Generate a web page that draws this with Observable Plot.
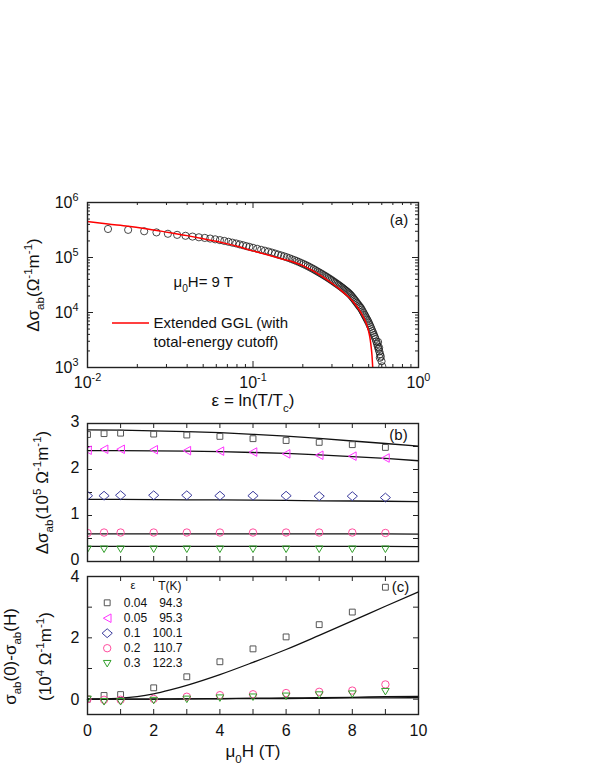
<!DOCTYPE html>
<html><head><meta charset="utf-8">
<script src="https://cdn.jsdelivr.net/npm/d3@7"></script>
<script src="https://cdn.jsdelivr.net/npm/@observablehq/plot@0.6"></script>
<style>
body{margin:0;background:#fff;}
#wrap{position:relative;width:595px;height:770px;overflow:hidden;}
#wrap svg{position:absolute;left:0;}
</style></head><body><div id="wrap"></div>
<script>
// ---------- Panel (a): Δσ_ab vs ε at 9 T (log-log) ----------
const epsA = [0.0133,0.0176,0.0220,0.0261,0.0306,0.0348,0.0391,0.0431,0.0471,0.0511,0.0551,0.0591,0.0631,0.0671,0.0711,0.0751,0.0791,0.0831,0.0871,0.0911,0.0951,0.100,
0.106,0.112,0.118,0.124,0.130,0.136,0.142,0.148,0.154,0.160,0.166,0.172,0.178,0.184,0.190,0.196,0.202,0.208,0.214,0.220,0.226,0.232,0.238,0.244,
0.250,0.256,0.262,0.268,0.274,0.280,0.286,0.292,0.298,0.304,0.310,0.316,0.322,0.328,0.334,0.340,0.346,0.352,0.358,0.364,0.370,0.376,0.382,0.388,
0.394,0.400,0.406,0.412,0.418,0.424,0.430,0.436,0.442,0.448,0.454,0.460,0.466,0.472,0.478,0.484,0.490,0.496,0.502,0.508,0.514,0.520,0.526,0.532,
0.538,0.544,0.550,0.556,0.562,0.568,0.574,0.580,0.586,0.592,0.598,0.604,0.610,0.570,0.578,0.584];
const sigmaA = [3.30e5,3.18e5,3.00e5,2.86e5,2.70e5,2.58e5,2.48e5,2.40e5,2.33e5,2.27e5,2.21e5,2.14e5,2.07e5,2.00e5,1.93e5,1.86e5,1.80e5,1.73e5,1.67e5,1.61e5,1.56e5,1.50e5,
1.44e5,1.38e5,1.33e5,1.28e5,1.23e5,1.18e5,1.13e5,1.09e5,1.05e5,1.01e5,9.70e4,9.30e4,8.95e4,8.60e4,8.25e4,7.90e4,7.60e4,7.30e4,7.00e4,6.70e4,6.42e4,6.15e4,5.88e4,5.62e4,
5.40e4,5.18e4,4.97e4,4.77e4,4.58e4,4.40e4,4.22e4,4.05e4,3.89e4,3.73e4,3.58e4,3.44e4,3.31e4,3.18e4,3.06e4,2.94e4,2.82e4,2.71e4,2.60e4,2.50e4,2.40e4,2.30e4,2.20e4,2.10e4,
1.99e4,1.88e4,1.78e4,1.68e4,1.59e4,1.50e4,1.42e4,1.34e4,1.27e4,1.21e4,1.13e4,1.05e4,9.80e3,9.10e3,8.50e3,7.90e3,7.40e3,6.90e3,6.40e3,5.90e3,5.45e3,5.00e3,4.60e3,4.25e3,
3.90e3,3.60e3,3.30e3,2.97e3,2.67e3,2.40e3,2.16e3,1.95e3,1.75e3,1.58e3,1.30e3,1.05e3,8.5e2,2.9e3,2.3e3,1.5e3];
const epsFit = [0.010,0.0133,0.0176,0.022,0.031,0.040,0.050,0.060,0.070,0.080,0.100,0.125,0.150,0.175,0.200,0.225,0.250,0.275,0.300,0.325,0.350,0.375,0.400,0.425,0.450,0.475,0.490,0.500,0.510,0.518,0.524,0.528,0.531];
const sigmaFit = [4.5e5,4.05e5,3.70e5,3.38e5,2.85e5,2.50e5,2.20e5,1.97e5,1.77e5,1.60e5,1.32e5,1.10e5,9.4e4,8.3e4,7.1e4,5.95e4,4.95e4,4.1e4,3.4e4,2.82e4,2.35e4,1.95e4,1.6e4,1.27e4,9.8e3,7.2e3,5.6e3,4.5e3,3.3e3,2.3e3,1.6e3,1.1e3,8e2];
const xMajorA = [0.01, 0.1, 1];
const yMajorA = [1e3, 1e4, 1e5, 1e6];

// ---------- Panel (b): Δσ_ab vs μ0H ----------
const fieldB = [0,0.5,1,2,3,4,5,6,7,8,9];
const b004 = [2.76,2.78,2.79,2.77,2.75,2.72,2.67,2.63,2.59,2.54,2.48];
const b005 = [2.42,2.44,2.44,2.43,2.41,2.40,2.38,2.34,2.31,2.29,2.25];
const b01  = [1.43,1.43,1.44,1.44,1.44,1.43,1.43,1.43,1.42,1.42,1.39];
const b02  = [0.62,0.63,0.63,0.63,0.63,0.63,0.63,0.63,0.63,0.63,0.62];
const b03  = [0.27,0.27,0.27,0.27,0.27,0.27,0.27,0.27,0.27,0.27,0.27];
const fieldFitB = [0,1,2,3,4,5,6,7,8,9,10];
const b004Fit = [2.86,2.855,2.84,2.825,2.80,2.765,2.725,2.675,2.62,2.565,2.51];
const b005Fit = [2.41,2.41,2.405,2.40,2.39,2.37,2.35,2.32,2.28,2.24,2.19];
const b01Fit  = [1.35,1.35,1.345,1.34,1.34,1.335,1.33,1.32,1.315,1.31,1.30];
const b02Fit  = [0.60,0.60,0.60,0.60,0.60,0.60,0.60,0.60,0.60,0.60,0.595];
const b03Fit  = [0.33,0.33,0.33,0.33,0.33,0.33,0.33,0.33,0.33,0.33,0.325];

// ---------- Panel (c): σ_ab(0)-σ_ab(H) ----------
const fieldC = [0,0.5,1,2,3,4,5,6,7,8,9];
const c004 = [0,0.12,0.15,0.37,0.73,1.22,1.64,2.03,2.43,2.84,3.65];
const c02  = [0,-0.02,-0.02,0.01,0.08,0.13,0.16,0.20,0.24,0.28,0.48];
const c03  = [0,-0.08,-0.08,-0.04,0.00,0.04,0.07,0.10,0.14,0.17,0.25];
const fieldFitC = [0,0.5,1,1.5,2,2.5,3,4,5,6,7,8,9,10];
const c004Fit = [0,0.01,0.03,0.08,0.17,0.3,0.45,0.8,1.2,1.62,2.08,2.55,3.03,3.5];
const c02Fit  = [0,0,0,0,0,0.01,0.01,0.02,0.03,0.04,0.05,0.06,0.08,0.09];
const c03Fit  = [0,0,0,0,0,0,0.01,0.01,0.02,0.02,0.03,0.04,0.04,0.05];

// legend
const legendEps = ["0.04","0.05","0.1","0.2","0.3"];
const legendT = ["94.3","95.3","100.1","110.7","122.3"];

// ---------- helpers ----------
const font = '"Liberation Sans", Arial, Helvetica, sans-serif';
const ink = "#222";
const zip = (xs, ys) => xs.map((x, i) => ({x, y: ys[i]}));
const triLeft = {draw(c, size){const s=Math.sqrt(size)/2; c.moveTo(-s*0.9,0); c.lineTo(s*0.9,-s); c.lineTo(s*0.9,s); c.closePath();}};
const triDown = {draw(c, size){const s=Math.sqrt(size)/2; c.moveTo(-s,-s*0.8); c.lineTo(s,-s*0.8); c.lineTo(0,s*0.9); c.closePath();}};
const diam = {draw(c, size){const s=Math.sqrt(size)/2; c.moveTo(0,-s); c.lineTo(s*1.15,0); c.lineTo(0,s); c.lineTo(-s*1.15,0); c.closePath();}};
const series = [
  {sym: "square", r: 3.3, color: "#555555"},
  {sym: triLeft, r: 4.8, color: "#ff33ff"},
  {sym: diam, r: 5.0, color: "#3d3d9e"},
  {sym: "circle", r: 3.7, color: "#ff4d9e"},
  {sym: triDown, r: 4.3, color: "#33a02c"}
];
const FW = 331;
function xTicks(vals, FH, L){return [Plot.tickX(vals,{x:d=>d,insetTop:FH-L,stroke:ink}),Plot.tickX(vals,{x:d=>d,insetBottom:FH-L,stroke:ink})];}
function yTicks(vals, L){return [Plot.tickY(vals,{y:d=>d,insetRight:FW-L,stroke:ink}),Plot.tickY(vals,{y:d=>d,insetLeft:FW-L,stroke:ink})];}
function logMinor(lo, hi){const out=[];for(let e=lo;e<hi;e++)for(let k=2;k<=9;k++)out.push(k*Math.pow(10,e));return out;}
const style = {background:"transparent",overflow:"visible",fontFamily:font,color:"#111"};
function txt(s, o){return Plot.text([s], {text:d=>d, fill:"#111", textAnchor:"middle", lineAnchor:"middle", ...o});}
const intFmt = d => String(d);
const powFmt = d => `10^{${Math.round(Math.log10(d))}}`;

function richify(root){
  root.querySelectorAll("text").forEach(t => {
    const s = t.textContent;
    if (!/[_^]\{/.test(s)) return;
    const fs = parseFloat(getComputedStyle(t).fontSize) || 16;
    while (t.firstChild) t.removeChild(t.firstChild);
    const re = /([_^])\{([^}]*)\}/g;
    let last = 0, cur = 0, m;
    const add = (str, kind) => {
      if (!str) return;
      const sp = document.createElementNS("http://www.w3.org/2000/svg","tspan");
      const target = kind === "_" ? 0.3*fs : kind === "^" ? -0.42*fs : 0;
      const dy = target - cur; cur = target;
      if (dy) sp.setAttribute("dy", dy);
      if (kind) sp.setAttribute("font-size", 0.68*fs);
      sp.textContent = str; t.appendChild(sp);
    };
    while ((m = re.exec(s))) { add(s.slice(last, m.index), null); add(m[2], m[1]); last = re.lastIndex; }
    add(s.slice(last), null);
  });
}
const wrap = document.getElementById("wrap");
function place(svg, top){ svg.style.top = top + "px"; wrap.appendChild(svg); richify(svg); return svg; }

// ---------- Panel (a) ----------
const svgA = Plot.plot({
  width: 595, height: 242, marginLeft: 87, marginRight: 177, marginTop: 32, marginBottom: 45,
  style,
  x: {type: "log", domain: [0.01, 1]},
  y: {type: "log", domain: [1e3, 1e6]},
  marks: [
    ...xTicks(xMajorA, 165, 6), ...xTicks(logMinor(-2, 0), 165, 3),
    ...yTicks(yMajorA, 6), ...yTicks(logMinor(3, 6), 3),
    Plot.axisX({ticks: xMajorA, tickSize: 0, tickPadding: 9, fontSize: 16, label: null, tickFormat: powFmt}),
    Plot.axisY({ticks: yMajorA, tickSize: 0, tickPadding: 9, fontSize: 16, label: null, tickFormat: powFmt}),
    Plot.dot(zip(epsA, sigmaA), {x: "x", y: "y", r: 3.6, stroke: "#1a1a1a", strokeWidth: 0.8, clip: true}),
    Plot.line(zip(epsFit, sigmaFit), {x: "x", y: "y", stroke: "#ff0000", strokeWidth: 1.5, clip: true, curve: "monotone-x"}),
    Plot.frame({stroke: ink, strokeWidth: 1.4}),
    txt("(a)", {frameAnchor: "top-right", dx: -19.5, dy: 18, fontSize: 15}),
    txt("μ_{0}H= 9 T", {frameAnchor: "top-left", dx: 86, dy: 80, textAnchor: "start", fontSize: 15}),
    txt("Extended GGL (with", {frameAnchor: "top-left", dx: 66, dy: 121, textAnchor: "start", fontSize: 15}),
    txt("total-energy cutoff)", {frameAnchor: "top-left", dx: 66, dy: 140, textAnchor: "start", fontSize: 15}),
    txt("Δσ_{ab}(Ω^{-1}m^{-1})", {frameAnchor: "left", dx: -54, rotate: -90, fontSize: 17}),
    txt("ε = ln(T/T_{c})", {frameAnchor: "bottom", dy: 33.5, fontSize: 17})
  ]
});
place(svgA, 170);
d3.select(svgA).append("line").attr("x1", 112).attr("x2", 149).attr("y1", 153).attr("y2", 153)
  .attr("stroke", "#ff0000").attr("stroke-width", 1.5);

// ---------- Panel (b) ----------
const dataB = [b004, b005, b01, b02, b03];
const fitB = [b004Fit, b005Fit, b01Fit, b02Fit, b03Fit];
const svgB = Plot.plot({
  width: 595, height: 156, marginLeft: 87, marginRight: 177, marginTop: 11, marginBottom: 7,
  style,
  x: {domain: [0, 10], axis: null},
  y: {domain: [0, 3]},
  marks: [
    ...xTicks([0,1,2,3,4,5,6,7,8,9,10], 138, 5),
    ...yTicks([0,0.5,1,1.5,2,2.5,3], 5),
    Plot.axisY({ticks: [0,1,2,3], tickSize: 0, tickPadding: 8, fontSize: 16, label: null, tickFormat: intFmt, dy: -1.5}),
    ...fitB.map(f => Plot.line(zip(fieldFitB, f), {x: "x", y: "y", stroke: "#111", strokeWidth: 1.3})),
    ...dataB.map((d, i) => Plot.dot(zip(fieldB, d), {x: "x", y: "y", symbol: series[i].sym, r: series[i].r, stroke: series[i].color, strokeWidth: 1, fill: "none", clip: true})),
    Plot.frame({stroke: ink, strokeWidth: 1.4}),
    txt("(b)", {frameAnchor: "top-right", dx: -20, dy: 12, fontSize: 15}),
    txt("Δσ_{ab}(10^{5} Ω^{-1}m^{-1})", {frameAnchor: "left", dx: -45, rotate: -90, fontSize: 17})
  ]
});
place(svgB, 412);

// ---------- Panel (c) ----------
const dataC = [[c004, 0], [c02, 3], [c03, 4]];
const fitC = [c004Fit, c02Fit, c03Fit];
const rowsDy = [26.3, 41.7, 56.7, 71.7, 87];
const svgC = Plot.plot({
  width: 595, height: 202, marginLeft: 87, marginRight: 177, marginTop: 8, marginBottom: 56,
  style,
  x: {domain: [0, 10]},
  y: {domain: [-0.5, 4]},
  marks: [
    ...xTicks([0,1,2,3,4,5,6,7,8,9,10], 138, 5),
    ...yTicks([0,1,2,3,4], 5),
    Plot.axisX({ticks: [0,2,4,6,8,10], tickSize: 0, tickPadding: 10, fontSize: 16, label: null, tickFormat: intFmt}),
    Plot.axisY({ticks: [0,2,4], tickSize: 0, tickPadding: 8, fontSize: 16, label: null, tickFormat: intFmt, dy: 0.5}),
    ...fitC.map(f => Plot.line(zip(fieldFitC, f), {x: "x", y: "y", stroke: "#111", strokeWidth: 1.3, curve: "monotone-x"})),
    ...dataC.map(([d, k]) => Plot.dot(zip(fieldC, d), {x: "x", y: "y", symbol: series[k].sym, r: series[k].r, stroke: series[k].color, strokeWidth: 1, fill: "none", clip: true})),
    Plot.frame({stroke: ink, strokeWidth: 1.4}),
    txt("(c)", {frameAnchor: "top-right", dx: -18, dy: 11, fontSize: 15}),
    txt("ε", {frameAnchor: "top-left", dx: 45.5, dy: 9, fontSize: 11}),
    txt("T(K)", {frameAnchor: "top-left", dx: 70.7, dy: 10, textAnchor: "start", fontSize: 12}),
    ...series.map((s, i) => Plot.dot([0], {frameAnchor: "top-left", dx: 19.7, dy: rowsDy[i], symbol: s.sym, r: s.r, stroke: s.color, strokeWidth: 1, fill: "none"})),
    ...legendEps.map((e, i) => txt(e, {frameAnchor: "top-left", dx: 36.3, dy: rowsDy[i], textAnchor: "start", fontSize: 12})),
    ...legendT.map((t, i) => txt(t, {frameAnchor: "top-left", dx: 95, dy: rowsDy[i], textAnchor: "end", fontSize: 12})),
    txt("σ_{ab}(0)-σ_{ab}(H)", {frameAnchor: "left", dx: -77, dy: 11, rotate: -90, fontSize: 17}),
    txt("(10^{4} Ω^{-1}m^{-1})", {frameAnchor: "left", dx: -42, dy: 11, rotate: -90, fontSize: 17}),
    txt("μ_{0}H (T)", {frameAnchor: "bottom", dy: 37.5, fontSize: 17})
  ]
});
place(svgC, 568);
</script></body></html>
